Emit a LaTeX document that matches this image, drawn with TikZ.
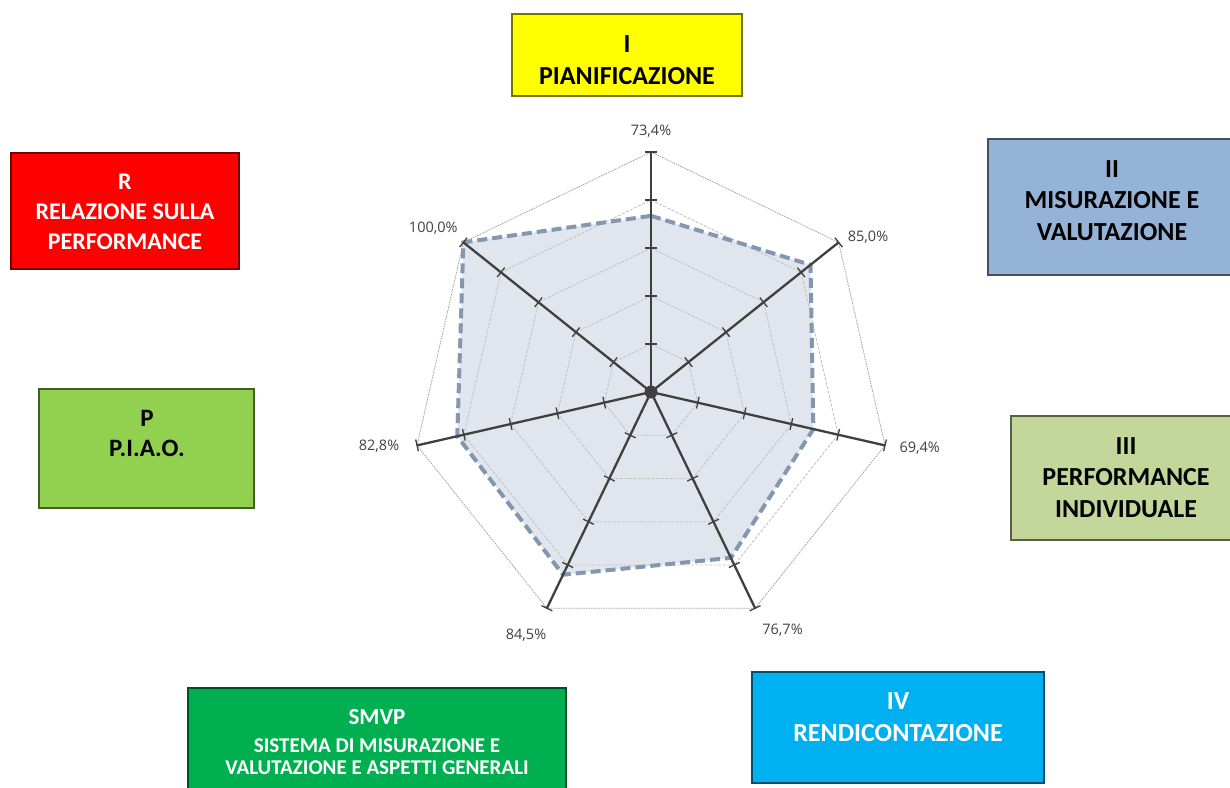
\documentclass[tikz,border=0pt]{standalone}
\usepackage{fontspec}
\setmainfont{Carlito}
\newfontfamily\pctfont{Open Sans}
\usetikzlibrary{calc}
\definecolor{axisgray}{HTML}{404040}
\definecolor{ringgray}{HTML}{C4C4C4}
\definecolor{outergray}{HTML}{A0A0A0}
\definecolor{datafill}{HTML}{E1E5ED}
\definecolor{dataedge}{HTML}{8497B0}
\definecolor{cI}{HTML}{FFFF00}
\definecolor{cII}{HTML}{95B3D7}
\definecolor{cIII}{HTML}{C4D79B}
\definecolor{cIV}{HTML}{00B0F0}
\definecolor{cS}{HTML}{00B050}
\definecolor{cP}{HTML}{92D050}
\definecolor{cR}{HTML}{FF0000}
\begin{document}
\begin{tikzpicture}[x=1pt,y=-1pt,
  box/.style={draw=#1!45!black, fill=#1, line width=1.3pt, inner sep=0pt},
  boxtext/.style={align=center, font=\bfseries\fontsize{26}{31.5}\selectfont, inner sep=0pt},
  pct/.style={font=\pctfont\fontsize{14.5}{17}\selectfont, text=axisgray, inner sep=0pt},
  ringline/.style={draw=ringgray, line width=0.9pt, dash pattern=on 3pt off 1.5pt},
  outerring/.style={draw=outergray, line width=0.8pt, dash pattern=on 1.5pt off 1pt},
  axisline/.style={draw=axisgray, line width=2.3pt},
  tickline/.style={draw=axisgray, line width=1.3pt},
  dataline/.style={draw=dataedge, line width=4pt, dash pattern=on 10pt off 5pt},
  hubdot/.style={circle, fill=axisgray, inner sep=0pt, minimum size=13pt}]
\useasboundingbox (0,0) rectangle (1230,787);
\fill[white] (0,0) rectangle (1230,787);

% boxes
\node[box=cI, minimum width=230, minimum height=82] (bI) at (627,55) {};
\node[boxtext] (tI) at (627,60) {I\\PIANIFICAZIONE};

\node[box=cII, minimum width=244, minimum height=136] (bII) at (1110,207) {};
\node[boxtext] (tII) at (1112,200.5) {II\\MISURAZIONE E\\VALUTAZIONE};

\node[box=cIII, minimum width=221, minimum height=124] (bIII) at (1121.5,478) {};
\node[boxtext] (tIII) at (1126,477.5) {III\\PERFORMANCE\\INDIVIDUALE};

\node[box=cIV, minimum width=292, minimum height=111] (bIV) at (898,727.5) {};
\node[boxtext, text=white] (tIV) at (898,717) {IV\\RENDICONTAZIONE};

\node[box=cS, minimum width=378, minimum height=107] (bS) at (377,741.5) {};
\node[boxtext, text=white, font=\bfseries\fontsize{21}{22}\selectfont] (tS) at (377,742)
  {{\fontsize{23}{24}\selectfont SMVP}\\[6pt]SISTEMA DI MISURAZIONE E\\VALUTAZIONE E ASPETTI GENERALI};

\node[box=cR, minimum width=228, minimum height=116] (bR) at (125,211) {};
\node[boxtext, text=white, font=\bfseries\fontsize{24}{30}\selectfont] (tR) at (125,212)
  {R\\RELAZIONE SULLA\\PERFORMANCE};

\node[box=cP, minimum width=215, minimum height=119] (bP) at (146.5,448.5) {};
\node[boxtext, font=\bfseries\fontsize{25}{30}\selectfont] (tP) at (147,433) {P\\P.I.A.O.};

% radar chart
\begin{scope}[shift={(651,392)}, y=1pt]
  \coordinate (O) at (0,0);
  \foreach \k/\v in {0/73.4,1/85.0,2/69.4,3/76.7,4/84.5,5/82.8,6/100.0}{
    \coordinate (e\k) at ({90-\k*360/7}:240);
    \coordinate (d\k) at ({90-\k*360/7}:{2.4*\v});
  }
  \fill[datafill] (d0) -- (d1) -- (d2) -- (d3) -- (d4) -- (d5) -- (d6) -- cycle;
  \foreach \f in {48,96,144,192}{
    \draw[ringline] (90:\f) \foreach \k in {1,...,6}{ -- ({90-\k*360/7}:\f)} -- cycle;
  }
  \draw[outerring] (e0) -- (e1) -- (e2) -- (e3) -- (e4) -- (e5) -- (e6) -- cycle;
  \draw[dataline] (d0) -- (d1) -- (d2) -- (d3) -- (d4) -- (d5) -- (d6) -- cycle;
  \foreach \k in {0,...,6}{
    \draw[axisline] (O) -- (e\k);
    \foreach \t in {48,96,144,192,240}{
      \draw[tickline] ({90-\k*360/7}:\t) ++({-\k*360/7}:6) -- ++({180-\k*360/7}:12);
    }
  }
  \node[hubdot] (hub) at (O) {};
\end{scope}

% value labels
\node[pct] (p0) at (651,130.7) {73,4\%};
\node[pct] (p1) at (868,236.7) {85,0\%};
\node[pct] (p2) at (919.7,448) {69,4\%};
\node[pct] (p3) at (782.5,630) {76,7\%};
\node[pct] (p4) at (526,635) {84,5\%};
\node[pct] (p5) at (379,446) {82,8\%};
\node[pct] (p6) at (433.3,228.3) {100,0\%};
\end{tikzpicture}
\end{document}
